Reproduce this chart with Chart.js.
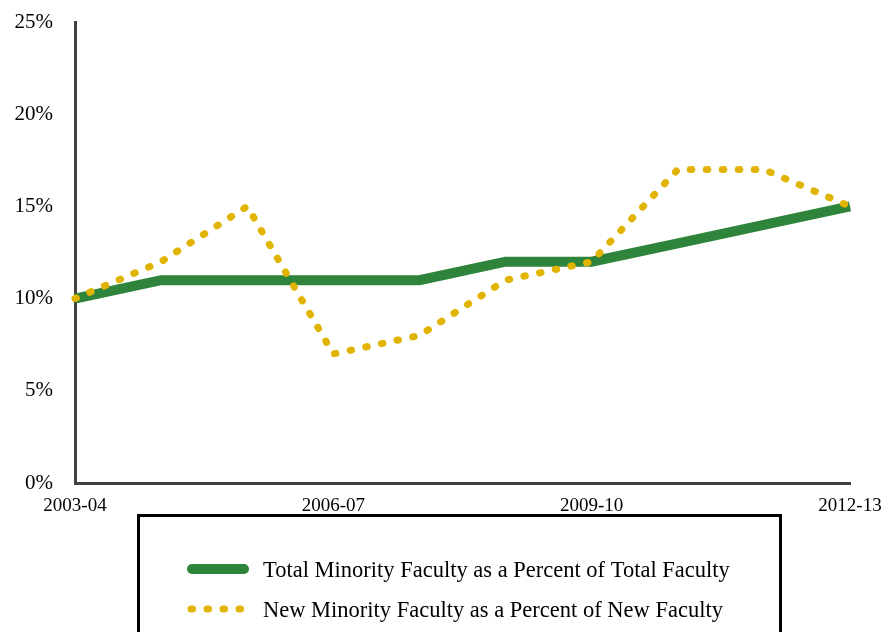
<!DOCTYPE html>
<html>
<head>
<meta charset="utf-8">
<script src="https://cdn.jsdelivr.net/npm/chart.js@4/dist/chart.umd.min.js"></script>
<style>
html,body{margin:0;padding:0;background:#fff;}
#wrap{width:885px;height:632px;position:relative;}
</style>
</head>
<body>
<div id="wrap"><canvas id="c"></canvas></div>
<script>
const categories = ['2003-04','2004-05','2005-06','2006-07','2007-08','2008-09','2009-10','2010-11','2011-12','2012-13'];
const shownLabels = ['2003-04','2006-07','2009-10','2012-13'];
const totalMinority = [10, 11, 11, 11, 11, 12, 12, 13, 14, 15];
const newMinority = [10, 12, 15, 7, 8, 11, 12, 17, 17, 15];
const yTicks = [0, 5, 10, 15, 20, 25];
const seriesNames = ['Total Minority Faculty as a Percent of Total Faculty','New Minority Faculty as a Percent of New Faculty'];

const GREEN = '#2e843a';
const YELLOW = '#e0b400';
const FONT = "'Liberation Serif', 'Times New Roman', serif";

const boxLegend = {
  id: 'boxLegend',
  afterDraw(chart) {
    const ctx = chart.ctx;
    ctx.save();
    ctx.strokeStyle = '#000';
    ctx.lineWidth = 3;
    ctx.strokeRect(138.5, 515.5, 642, 130);
    const rows = [569, 609];
    chart.data.datasets.forEach((ds, i) => {
      const y = rows[i];
      ctx.strokeStyle = ds.borderColor;
      ctx.lineWidth = i === 0 ? 10 : 7;
      ctx.lineCap = 'round';
      if (i === 0) {
        ctx.setLineDash([]);
        ctx.beginPath(); ctx.moveTo(192, y); ctx.lineTo(244, y); ctx.stroke();
      } else {
        ctx.setLineDash([1.5, 14.5]);
        ctx.beginPath(); ctx.moveTo(191, y); ctx.lineTo(248, y); ctx.stroke();
      }
      ctx.setLineDash([]);
      ctx.fillStyle = '#000';
      ctx.font = '22.5px ' + FONT;
      ctx.textBaseline = 'alphabetic';
      ctx.textAlign = 'left';
      ctx.fillText(ds.label, 263, y + 8);
    });
    ctx.restore();
  }
};

new Chart(document.getElementById('c'), {
  type: 'line',
  data: {
    labels: categories,
    datasets: [
      {
        label: seriesNames[0],
        data: totalMinority,
        borderColor: GREEN,
        backgroundColor: GREEN,
        borderWidth: 10,
        pointRadius: 0,
        tension: 0,
        borderJoinStyle: 'miter',
        order: 1,
        clip: false
      },
      {
        label: seriesNames[1],
        data: newMinority,
        borderColor: YELLOW,
        backgroundColor: YELLOW,
        borderWidth: 7,
        borderDash: [1.5, 14.5],
        borderCapStyle: 'round',
        borderJoinStyle: 'round',
        pointRadius: 0,
        tension: 0,
        order: 0,
        clip: false
      }
    ]
  },
  options: {
    responsive: true,
    maintainAspectRatio: false,
    animation: false,
    layout: { padding: { top: 22, right: 35, left: 0, bottom: 109 } },
    plugins: { legend: { display: false }, tooltip: { enabled: false } },
    scales: {
      x: {
        grid: { display: false, drawTicks: false },
        border: { display: true, color: '#404040', width: 3 },
        ticks: {
          autoSkip: false,
          maxRotation: 0,
          padding: 12,
          color: '#000',
          font: { family: FONT, size: 19 },
          callback: function(v, i) {
            const l = categories[i];
            return shownLabels.includes(l) ? l : '';
          }
        },
        afterFit: function(s) { s.height = 40; s.paddingLeft = 0; s.paddingRight = 0; }
      },
      y: {
        min: yTicks[0],
        max: yTicks[yTicks.length - 1],
        grid: { display: false, drawTicks: false },
        border: { display: true, color: '#404040', width: 3 },
        afterBuildTicks: function(s) { s.ticks = yTicks.map(v => ({ value: v })); },
        ticks: {
          padding: 22,
          color: '#000',
          font: { family: FONT, size: 21 },
          callback: v => v + '%'
        },
        afterFit: function(s) { s.width = 75; s.paddingTop = 0; s.paddingBottom = 0; }
      }
    }
  },
  plugins: [boxLegend]
});
</script>
</body>
</html>
